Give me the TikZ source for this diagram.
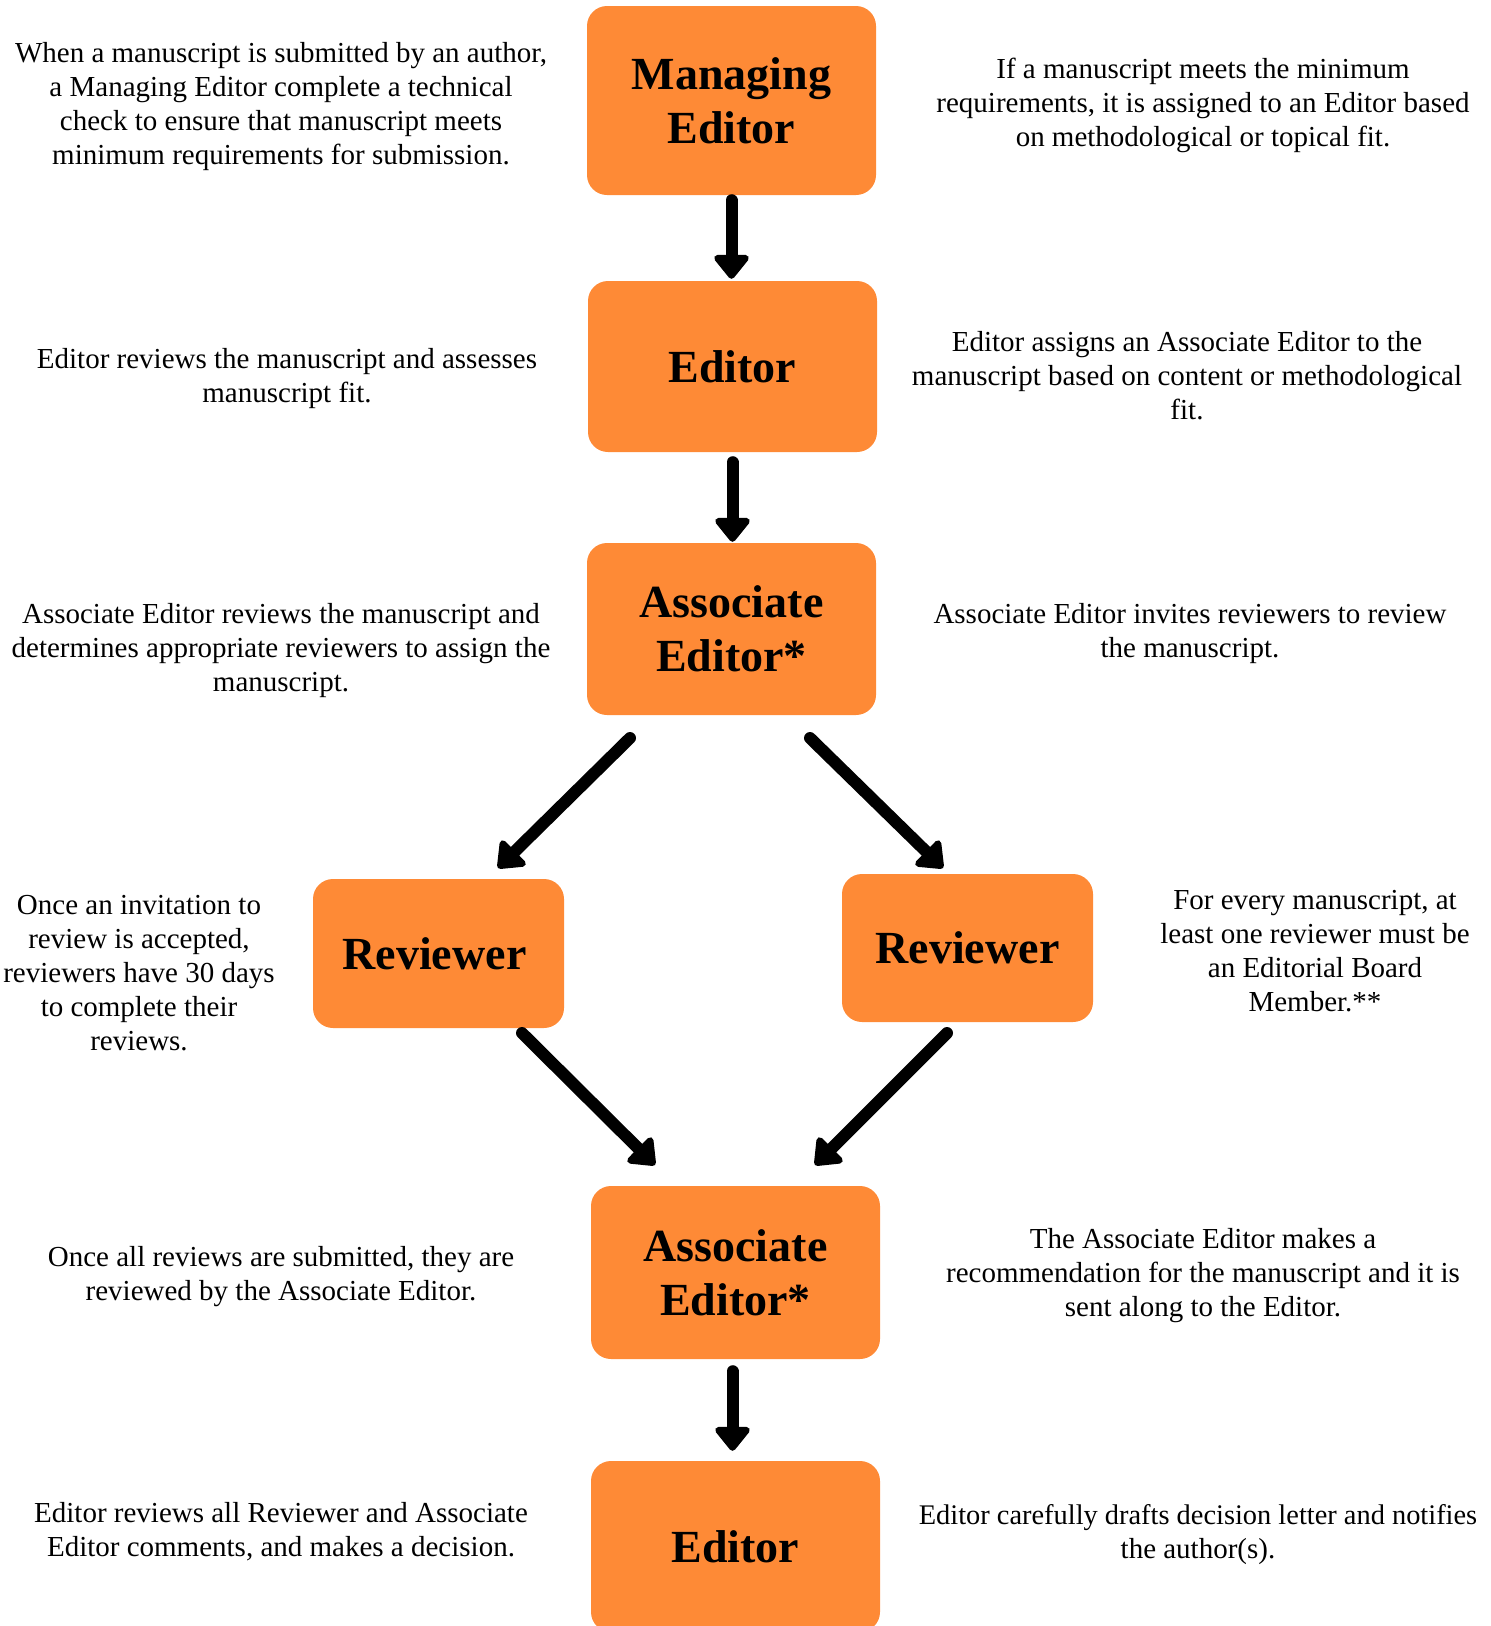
\documentclass[tikz,border=0pt]{standalone}
\usepackage{fontspec}
\setmainfont{Liberation Serif}
\usetikzlibrary{arrows.meta}
\definecolor{boxorange}{HTML}{FE8A36}
\begin{document}
\begin{tikzpicture}[x=1pt,y=-1pt,
  stagebox/.style={fill=boxorange, rounded corners=20pt, draw=none, inner sep=0pt,
     align=center, font=\bfseries\fontsize{46}{54}\selectfont},
  note/.style={inner sep=0pt, align=center, font=\fontsize{29}{34}\selectfont},
  flow/.style={line width=12pt, line cap=round, -{Triangle[width=40pt,length=26pt,round]}}]
\useasboundingbox (0,0) rectangle (1491,1626);
\begin{scope}
\clip (0,0) rectangle (1491,1626);
% boxes
\node[stagebox, minimum width=289pt, minimum height=189pt] (m1) at (731.5,100.5) {Managing\\Editor};
\node[stagebox, minimum width=289pt, minimum height=171pt] (e1) at (732.5,366.5) {Editor};
\node[stagebox, minimum width=289pt, minimum height=172pt] (a1) at (731.5,629) {Associate\\Editor*};
\node[stagebox, minimum width=251pt, minimum height=149pt] (r1) at (438.5,953.5) {\hspace*{-8pt}Reviewer};
\node[stagebox, minimum width=251pt, minimum height=148pt] (r2) at (967.5,948) {Reviewer};
\node[stagebox, minimum width=289pt, minimum height=173pt] (a2) at (735.5,1272.5) {Associate\\Editor*};
\node[stagebox, minimum width=289pt, minimum height=171pt] (e2) at (735.5,1546.5) {Editor};
\end{scope}
% notes
\node[note] (t1l) at (281,107) {When a manuscript is submitted by an author,\\a Managing Editor complete a technical\\check to ensure that manuscript meets\\minimum requirements for submission.};
\node[note] (t1r) at (1203,105) {If a manuscript meets the minimum\\requirements, it is assigned to an Editor based\\on methodological or topical fit.};
\node[note] (t2l) at (287,379) {Editor reviews the manuscript and assesses\\manuscript fit.};
\node[note] (t2r) at (1187,376) {Editor assigns an Associate Editor to the\\manuscript based on content or methodological\\fit.};
\node[note] (t3l) at (281,651) {Associate Editor reviews the manuscript and\\determines appropriate reviewers to assign the\\manuscript.};
\node[note] (t3r) at (1190,634) {Associate Editor invites reviewers to review\\the manuscript.};
\node[note] (t4l) at (139,973) {Once an invitation to\\review is accepted,\\reviewers have 30 days\\to complete their\\reviews.};
\node[note] (t4r) at (1315,951) {For every manuscript, at\\least one reviewer must be\\an Editorial Board\\Member.**};
\node[note] (t5l) at (281,1277) {Once all reviews are submitted, they are\\reviewed by the Associate Editor.};
\node[note] (t5r) at (1203,1276) {The Associate Editor makes a\\recommendation for the manuscript and it is\\sent along to the Editor.};
\node[note] (t6l) at (281,1532) {Editor reviews all Reviewer and Associate\\Editor comments, and makes a decision.};
\node[note] (t6r) at (1198,1535) {\fontsize{28.4}{34}\selectfont Editor carefully drafts decision letter and notifies\\the author(s).};
% connector end points
\coordinate (d1s) at (630,738);
\coordinate (d1e) at (498,868);
\coordinate (d2s) at (810,738);
\coordinate (d2e) at (943,868);
\coordinate (d3s) at (522,1033);
\coordinate (d3e) at (655,1165);
\coordinate (d4s) at (947,1033);
\coordinate (d4e) at (815,1165);
% connectors
\draw[flow, shorten <=5pt, shorten >=2pt] (m1.south) -- (m1.south |- e1.north);
\draw[flow, shorten <=10pt, shorten >=1pt] (e1.south) -- (e1.south |- a1.north);
\draw[flow] (d1s) -- (d1e);
\draw[flow] (d2s) -- (d2e);
\draw[flow] (d3s) -- (d3e);
\draw[flow] (d4s) -- (d4e);
\draw[flow, shorten <=12pt, shorten >=10pt] (a2.south -| e1.south) -- (e2.north -| e1.south);
\end{tikzpicture}
\end{document}
